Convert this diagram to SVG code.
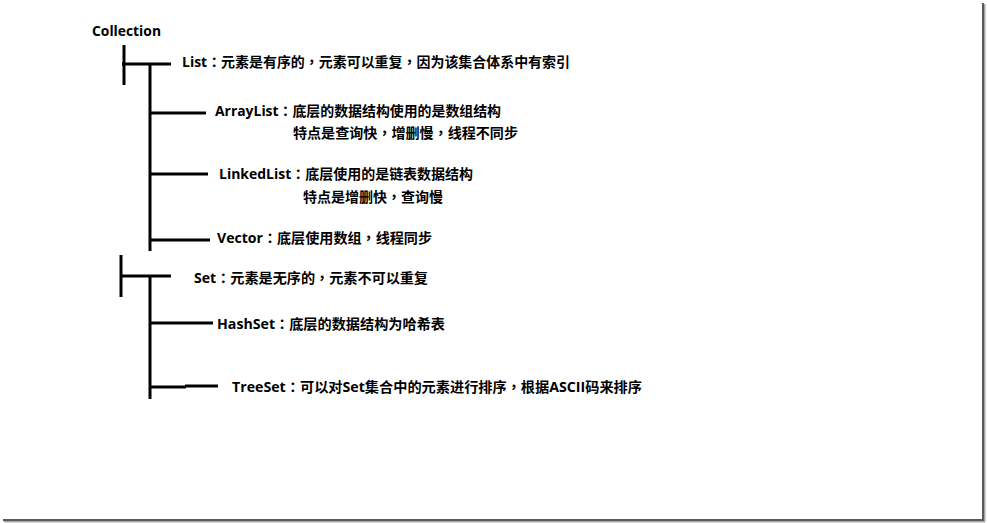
<svg xmlns="http://www.w3.org/2000/svg" width="987" height="523" viewBox="0 0 987 523">
<style>
.t{font-family:"Open Sans","Noto Sans CJK SC",sans-serif;font-weight:700;font-size:14px;fill:#000}
.p{font-family:"Noto Sans CJK TC",sans-serif}
.c line{stroke:#000;stroke-width:3;stroke-linecap:butt}
</style>
<rect x="0" y="0" width="987" height="523" fill="#fff"/>
<g id="frame">
<rect x="982" y="3" width="2" height="518" fill="#5a5a5a"/>
<rect x="984" y="4" width="1.5" height="518" fill="#a8a8a8"/>
<rect x="3" y="519" width="981" height="2" fill="#5a5a5a"/>
<rect x="4" y="521" width="981" height="1.5" fill="#a8a8a8"/>
</g>
<g id="connectors" class="c">
<line x1="124" y1="45" x2="124" y2="85"/>
<line x1="122" y1="64" x2="171" y2="64"/>
<line x1="150" y1="64" x2="150" y2="251"/>
<line x1="150" y1="113" x2="206" y2="113"/>
<line x1="150" y1="174" x2="208" y2="174"/>
<line x1="150" y1="240" x2="210" y2="240"/>
<line x1="121" y1="255" x2="121" y2="297"/>
<line x1="121" y1="276" x2="171" y2="276"/>
<line x1="150" y1="276" x2="150" y2="399"/>
<line x1="150" y1="323" x2="213" y2="323"/>
<line x1="150" y1="387" x2="186" y2="387"/>
<line x1="185" y1="386" x2="218" y2="386"/>
</g>
<g id="collection"><text class="t" x="92" y="36" textLength="69" lengthAdjust="spacingAndGlyphs">Collection</text></g>
<g id="list"><text class="t" x="182" y="67" textLength="388" lengthAdjust="spacingAndGlyphs">List<tspan class="p">：</tspan>元素是有序的<tspan class="p">，</tspan>元素可以重复<tspan class="p">，</tspan>因为该集合体系中有索引</text></g>
<g id="arraylist">
<text class="t" x="215" y="116" textLength="286" lengthAdjust="spacingAndGlyphs">ArrayList<tspan class="p">：</tspan>底层的数据结构使用的是数组结构</text>
<text class="t" x="293" y="138" textLength="225" lengthAdjust="spacingAndGlyphs">特点是查询快<tspan class="p">，</tspan>增删慢<tspan class="p">，</tspan>线程不同步</text>
</g>
<g id="linkedlist">
<text class="t" x="219" y="179" textLength="254" lengthAdjust="spacingAndGlyphs">LinkedList<tspan class="p">：</tspan>底层使用的是链表数据结构</text>
<text class="t" x="303" y="202" textLength="140" lengthAdjust="spacingAndGlyphs">特点是增删快<tspan class="p">，</tspan>查询慢</text>
</g>
<g id="vector"><text class="t" x="217" y="243" textLength="215" lengthAdjust="spacingAndGlyphs">Vector<tspan class="p">：</tspan>底层使用数组<tspan class="p">，</tspan>线程同步</text></g>
<g id="set"><text class="t" x="194" y="283" textLength="234" lengthAdjust="spacingAndGlyphs">Set<tspan class="p">：</tspan>元素是无序的<tspan class="p">，</tspan>元素不可以重复</text></g>
<g id="hashset"><text class="t" x="217" y="329" textLength="228" lengthAdjust="spacingAndGlyphs">HashSet<tspan class="p">：</tspan>底层的数据结构为哈希表</text></g>
<g id="treeset"><text class="t" x="232" y="392" textLength="410" lengthAdjust="spacingAndGlyphs">TreeSet<tspan class="p">：</tspan>可以对Set集合中的元素进行排序<tspan class="p">，</tspan>根据ASCII码来排序</text></g>
</svg>
